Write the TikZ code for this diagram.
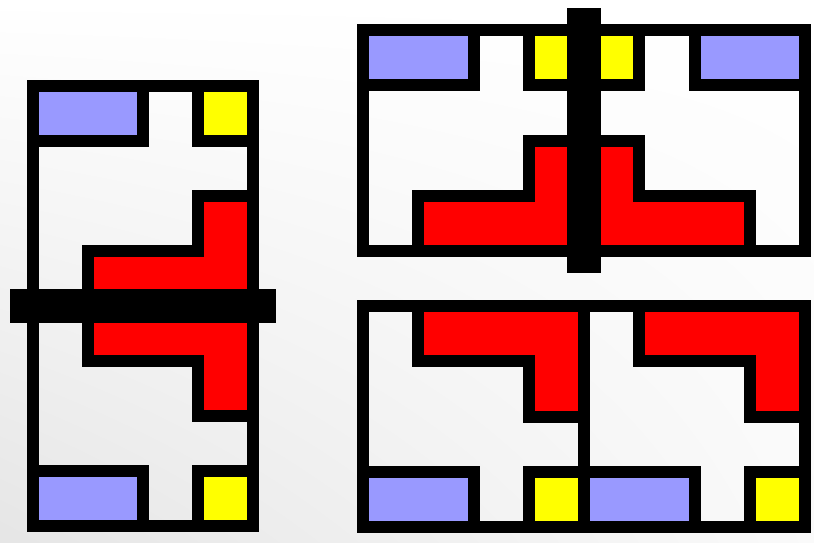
\documentclass[tikz,border=0pt]{standalone}
\usetikzlibrary{calc,shadings}
\definecolor{cellblue}{HTML}{9999FF}
\definecolor{cellyellow}{HTML}{FFFF00}
\definecolor{cellred}{HTML}{FF0000}
\tikzset{
  wall/.style={draw=black, line width=12pt, line join=miter},
  bluecell/.style={wall, fill=cellblue},
  yellowcell/.style={wall, fill=cellyellow},
  redcell/.style={wall, fill=cellred},
  frame/.style={wall},
  bar/.style={fill=black}
}
\begin{document}
\begin{tikzpicture}[x=1pt,y=-1pt]
\useasboundingbox (0,0) rectangle (814,542);
\begin{scope}[y=1pt]
\shade[shading=bilinear interpolation, upper left=white, upper right=white, lower right=black!2, lower left=black!10] (0,-542) rectangle (814,0);
\end{scope}

% Left module
\begin{scope}[shift={(33,86)}, x=55pt, y=-55pt]
  \draw[bluecell] (0,0) rectangle (2,1);
  \draw[yellowcell] (3,0) rectangle (4,1);
  \draw[redcell] (1,4) -- (1,3) -- (3,3) -- (3,2) -- (4,2) -- (4,4) -- cycle;
  \draw[redcell] (1,4) -- (1,5) -- (3,5) -- (3,6) -- (4,6) -- (4,4) -- cycle;
  \draw[bluecell] (0,7) rectangle (2,8);
  \draw[yellowcell] (3,7) rectangle (4,8);
  \draw[frame] (0,0) rectangle (4,8);
\end{scope}
\fill[bar] (10,289) rectangle (276,323);

% Top right module
\begin{scope}[shift={(363,30)}, x=55.25pt, y=-55.25pt]
  \draw[bluecell] (0,0) rectangle (2,1);
  \draw[yellowcell] (3,0) rectangle (4,1);
  \draw[yellowcell] (4,0) rectangle (5,1);
  \draw[bluecell] (6,0) rectangle (8,1);
  \draw[redcell] (1,4) -- (1,3) -- (3,3) -- (3,2) -- (4,2) -- (4,4) -- cycle;
  \draw[redcell] (7,4) -- (7,3) -- (5,3) -- (5,2) -- (4,2) -- (4,4) -- cycle;
  \draw[frame] (0,0) rectangle (8,4);
\end{scope}
\fill[bar] (567,8) rectangle (601,273);

% Bottom right module
\begin{scope}[shift={(363,306)}, x=55.25pt, y=-55.25pt]
  \foreach \k in {0,4} {
    \draw[redcell] (\k+1,0) -- (\k+1,1) -- (\k+3,1) -- (\k+3,2) -- (\k+4,2) -- (\k+4,0) -- cycle;
    \draw[bluecell] (\k,3) rectangle (\k+2,4);
    \draw[yellowcell] (\k+3,3) rectangle (\k+4,4);
  }
  \draw[frame] (0,0) rectangle (8,4);
  \draw[wall] (4,0) -- (4,4);
\end{scope}
\end{tikzpicture}
\end{document}
